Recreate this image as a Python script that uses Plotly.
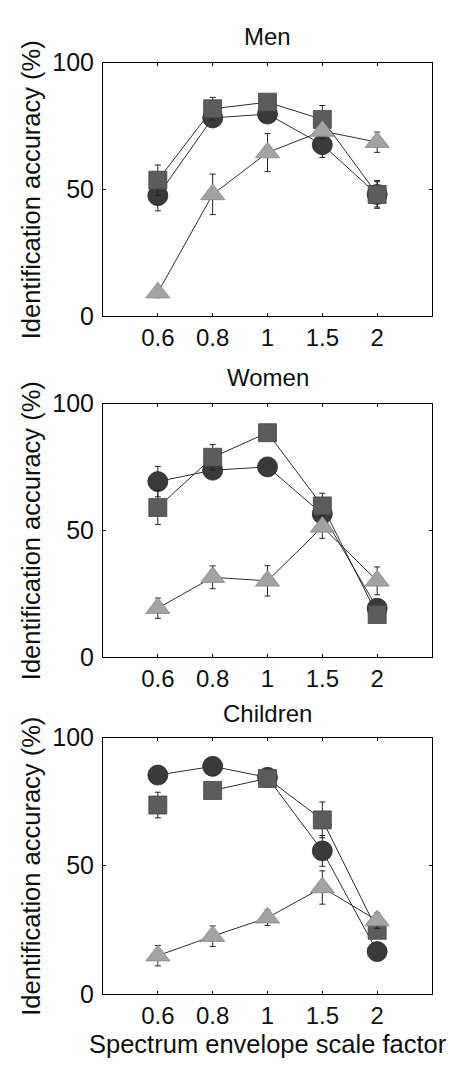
import plotly.graph_objects as go

# ---------------- data ----------------
scale_labels = ["0.6", "0.8", "1", "1.5", "2"]
panel_titles = ["Men", "Women", "Children"]

men_circle = [47.5, 78.2, 79.7, 67.6, 48.0]
men_square = [53.6, 81.8, 84.4, 77.6, 48.0]
men_triangle = [9.2, 48.0, 64.5, 73.0, 68.6]
men_circle_err = [6.0, 3.0, 3.0, 5.0, 5.5]
men_square_err = [6.0, 4.5, 3.0, 5.5, 5.0]
men_triangle_err = [2.0, 8.0, 7.5, 3.0, 4.0]

women_circle = [69.2, 73.7, 75.0, 56.4, 19.2]
women_square = [59.0, 78.8, 88.5, 59.6, 16.7]
women_triangle = [19.2, 31.4, 30.0, 51.3, 30.0]
women_circle_err = [6.0, 3.0, 3.0, 5.0, 3.0]
women_square_err = [6.7, 5.0, 3.0, 5.0, 3.0]
women_triangle_err = [4.0, 4.5, 6.0, 4.5, 5.5]

children_circle = [85.4, 88.8, 84.5, 55.8, 16.5]
children_square = [73.7, 79.4, 84.1, 67.9, 24.8]
children_triangle = [14.9, 22.5, 29.7, 41.5, 28.6]
children_circle_err = [3.0, 3.0, 3.0, 6.0, 3.0]
children_square_err = [5.0, 3.0, 3.0, 7.0, 3.0]
children_triangle_err = [4.0, 4.0, 3.0, 6.5, 3.0]

# index from which each series' connecting line starts (per panel)
line_start = {
    "Men": [0, 0, 0],
    "Women": [0, 0, 0],
    "Children": [0, 1, 0],
}

panels = [
    ("Men", [men_circle, men_square, men_triangle],
     [men_circle_err, men_square_err, men_triangle_err]),
    ("Women", [women_circle, women_square, women_triangle],
     [women_circle_err, women_square_err, women_triangle_err]),
    ("Children", [children_circle, children_square, children_triangle],
     [children_circle_err, children_square_err, children_triangle_err]),
]

# ---------------- styling ----------------
W, H = 451, 1076
FONT = "Liberation Sans, Arial, sans-serif"
x_px = (103, 432)
y_px = [(50, 310), (400, 660), (743, 1006)]
title_y = [22, 372, 717]

symbols = ["circle", "square", "triangle-up"]
fills = ["#3a3a3a", "#5c5c5c", "#a3a3a3"]
edges = ["#262626", "#444444", "#888888"]
sizes = [20, 18, 21]
TXT = "#111111"

fig = go.Figure()
layout = dict(
    width=W, height=H,
    margin=dict(l=0, r=0, t=0, b=0),
    paper_bgcolor="white", plot_bgcolor="white",
    showlegend=False,
    font=dict(family=FONT, color=TXT),
    annotations=[],
)

for i, (name, series, errs) in enumerate(panels):
    ax = "" if i == 0 else str(i + 1)
    xref, yref = "x" + ax, "y" + ax
    for k in range(3):
        s = line_start[name][k]
        fig.add_trace(go.Scatter(
            x=scale_labels[s:], y=series[k][s:], mode="lines",
            line=dict(color="#2e2e2e", width=1),
            xaxis=xref, yaxis=yref, hoverinfo="skip"))
    for k in range(3):
        fig.add_trace(go.Scatter(
            x=scale_labels, y=series[k], mode="markers",
            marker=dict(symbol=symbols[k], size=sizes[k], color=fills[k],
                        line=dict(color=edges[k], width=0.8)),
            error_y=dict(type="data", array=errs[k], visible=True,
                         color="#222222", thickness=1, width=3),
            xaxis=xref, yaxis=yref))
    y0, y1 = y_px[i]
    layout["xaxis" + ax] = dict(
        domain=[x_px[0] / W, x_px[1] / W],
        anchor=yref, type="category",
        categoryorder="array", categoryarray=scale_labels,
        range=[-1, 5],
        showline=True, mirror="ticks", linecolor="black", linewidth=1,
        ticks="inside", ticklen=3, tickcolor="black",
        showgrid=False, zeroline=False,
        tickfont=dict(size=24, family=FONT, color=TXT),
        ticklabelstandoff=0,
    )
    layout["yaxis" + ax] = dict(
        domain=[1 - y1 / H, 1 - y0 / H],
        anchor=xref, range=[0, 100],
        tickvals=[0, 50, 100],
        showline=True, mirror="ticks", linecolor="black", linewidth=1,
        ticks="inside", ticklen=3, tickcolor="black",
        showgrid=False, zeroline=False,
        tickfont=dict(size=25, family=FONT, color=TXT),
        ticklabelstandoff=3,
    )
    layout["annotations"].append(dict(
        text=name, x=(x_px[0] + x_px[1]) / 2 / W, y=1 - (title_y[i] + 1) / H,
        xref="paper", yref="paper", xanchor="center", yanchor="middle",
        showarrow=False, font=dict(size=24, family=FONT, color=TXT)))
    layout["annotations"].append(dict(
        text="Identification accuracy (%)", textangle=-90,
        x=31 / W, y=1 - ((y0 + y1) / 2 + 1) / H,
        xref="paper", yref="paper", xanchor="center", yanchor="middle",
        showarrow=False, font=dict(size=25.5, family=FONT, color=TXT)))

layout["annotations"].append(dict(
    text="Spectrum envelope scale factor",
    x=268 / W, y=1 - 1058 / H,
    xref="paper", yref="paper", xanchor="center", yanchor="middle",
    showarrow=False, font=dict(size=25.5, family=FONT, color=TXT)))

fig.update_layout(**layout)
fig.write_html("out.html", config={"displayModeBar": False},
               post_script="document.body.style.margin='0';document.body.style.overflow='hidden';")
